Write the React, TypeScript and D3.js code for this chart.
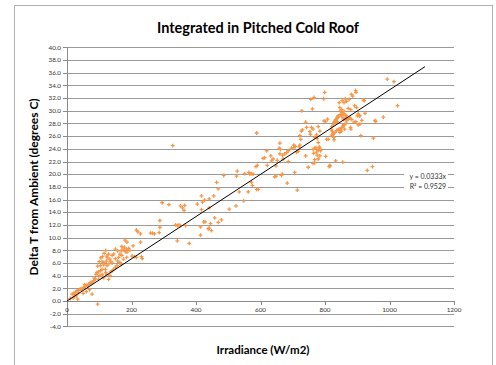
import * as d3 from 'd3'

// Irradiance (W/m2), Delta T (degrees C)
const lowPoints: [number, number][] = [
  [10, 0.4], [16, 1.1], [19, 0.5], [21, 1.2], [23, 0.7], [25, 1.0], [26, 1.4], [29, 0.8], [31, 1.6], [33, 0.3],
  [35, 1.3], [36, 1.7], [41, 1.9], [45, 1.8], [47, 2.0], [50, 1.2], [52, 2.1], [55, 2.6], [57, 2.3], [60, 1.5],
  [62, 2.5], [65, 2.4], [67, 2.6], [70, 1.8], [72, 2.9], [75, 2.8], [78, 3.0], [78, 1.1], [83, 3.2], [85, 3.6],
  [88, 3.5], [90, 4.2], [93, 4.5], [95, -0.5], [95, 5.5], [98, 4.6], [98, 3.4], [100, 6.2], [100, 4.0], [104, 4.8],
  [104, 5.6], [105, 6.8], [109, 5.0], [109, 6.2], [109, 4.2], [110, 7.0], [110, 3.8], [114, 6.1], [114, 5.7],
  [114, 3.7], [115, 7.5], [119, 5.0], [120, 8.0], [120, 4.5], [122, 6.3], [124, 7.1], [124, 5.6], [124, 4.2],
  [125, 6.8], [129, 7.4], [129, 3.4], [130, 5.9], [133, 6.6], [133, 4.0], [135, 4.6], [135, 6.3], [140, 4.8],
  [140, 7.2], [140, 6.0], [145, 5.0], [145, 7.4], [150, 5.3], [150, 8.2], [150, 6.7], [155, 5.6], [157, 6.3],
  [157, 7.9], [160, 6.9], [164, 6.1], [164, 7.4], [168, 5.8], [168, 7.9], [170, 7.2], [170, 8.6], [174, 8.2],
  [175, 6.6], [178, 8.5], [180, 9.6], [181, 7.8], [184, 8.2], [185, 6.9], [186, 7.7], [186, 9.3], [191, 8.3],
  [195, 8.0], [202, 7.1], [205, 8.7], [209, 7.0], [215, 6.9], [228, 9.3], [231, 7.0], [233, 6.7],
]

const midPoints: [number, number][] = [
  [215, 11.2], [220, 10.9], [228, 10.6], [259, 10.7], [265, 10.7], [271, 10.6], [286, 10.8], [288, 11.6],
  [288, 12.7], [295, 15.5], [316, 15.2], [328, 24.5], [337, 12.0], [342, 11.9], [342, 9.5], [347, 12.0],
  [352, 11.9], [352, 15.0], [358, 14.7], [363, 14.3], [365, 15.1], [368, 11.9], [379, 9.1], [404, 15.3],
  [414, 11.7], [414, 10.4], [417, 16.6], [417, 14.4], [420, 15.6], [424, 12.5], [427, 15.9], [428, 12.5],
  [438, 11.4], [441, 14.7], [441, 11.5], [441, 16.1], [445, 12.2], [448, 11.1], [455, 16.6], [458, 13.1],
  [464, 18.7], [469, 12.4], [469, 17.7], [479, 12.8], [486, 19.8], [503, 14.5], [524, 15.0], [526, 19.7],
  [528, 20.5], [534, 17.2], [548, 15.8], [551, 20.1], [562, 17.2], [564, 20.3], [567, 20.0], [572, 20.1],
  [572, 18.7], [575, 18.2], [577, 20.0], [586, 21.2], [588, 26.5], [588, 17.6], [590, 21.4], [593, 17.6],
]

const highPoints: [number, number][] = [
  [608, 22.5], [613, 22.6], [619, 23.7], [621, 21.4], [632, 22.9], [634, 22.1], [639, 22.4], [644, 19.6],
  [648, 19.7], [652, 22.2], [648, 21.3], [660, 24.9], [658, 24.1], [662, 23.9], [660, 23.2], [665, 19.8],
  [668, 20.0], [668, 23.0], [670, 22.4], [675, 23.2], [681, 23.4], [686, 23.7], [686, 22.0], [683, 18.6],
  [696, 24.1], [703, 24.6], [704, 24.2], [708, 24.4], [706, 20.3], [712, 23.5], [717, 23.6], [720, 24.3],
  [722, 24.6], [725, 25.5], [722, 26.1], [727, 26.8], [730, 27.0], [728, 30.0], [714, 17.5], [740, 28.2],
  [743, 27.4], [740, 22.9], [748, 21.1], [753, 26.7], [755, 26.3], [758, 27.4], [763, 27.1], [761, 30.3],
  [756, 31.8], [766, 32.1], [763, 23.9], [768, 24.1], [772, 24.2], [774, 23.5], [765, 23.3], [768, 25.8],
  [774, 26.2], [776, 25.6], [779, 25.0], [782, 24.3], [784, 24.1], [779, 23.8], [786, 23.7], [768, 22.3],
  [779, 22.4], [784, 22.9], [776, 23.0], [763, 21.7], [768, 21.8], [779, 27.5], [784, 26.8], [796, 31.9],
  [799, 32.9], [797, 28.4], [802, 28.3], [808, 28.7], [805, 25.5], [810, 25.5], [802, 22.8], [813, 21.2],
  [815, 21.4], [820, 27.0], [823, 26.7], [825, 26.3], [827, 25.8], [830, 28.3], [833, 28.6], [836, 28.7],
  [838, 29.0], [841, 29.2], [833, 22.1], [844, 31.3], [853, 31.6], [863, 31.9], [882, 32.6], [895, 33.2],
  [846, 30.5], [848, 30.0], [854, 29.7], [858, 29.5], [851, 29.2], [856, 28.9], [864, 29.3], [867, 28.8],
  [856, 27.6], [861, 27.1], [867, 28.4], [872, 28.7], [877, 28.9], [879, 27.4], [892, 30.8], [898, 30.5],
  [903, 29.5], [906, 29.2], [908, 27.9], [844, 27.1], [846, 26.6], [851, 26.8],
]

const farPoints: [number, number][] = [
  [993, 35.0], [1014, 34.6], [1025, 30.8], [981, 29.0], [955, 28.5], [957, 28.3], [950, 25.7], [931, 20.6],
  [947, 21.2], [911, 26.1], [896, 32.9], [886, 32.3], [875, 31.8], [867, 31.5], [859, 31.3],
  [872, 30.4], [880, 30.2], [919, 31.7], [922, 31.6], [924, 29.6], [900, 29.2], [908, 29.2], [914, 28.5],
  [896, 28.3], [890, 28.2], [883, 28.6], [878, 28.8], [862, 28.7], [857, 28.6], [852, 30.2], [855, 29.5],
  [859, 29.9], [865, 29.2], [847, 29.4], [841, 29.0], [838, 28.3], [834, 28.1], [831, 28.3], [828, 28.2],
  [826, 27.8], [821, 27.5], [880, 27.1], [903, 27.8], [865, 28.0], [859, 27.8], [855, 27.6], [852, 27.3],
  [847, 27.1], [841, 27.0], [836, 26.9], [831, 26.6], [826, 26.5], [821, 26.2], [824, 26.0], [828, 25.4],
  [815, 21.3], [855, 21.9],
]

const xTicks = [0, 200, 400, 600, 800, 1000, 1200]
const yTicks = d3.range(-4, 41, 2)
const slope = 0.0333
const rSquared = 0.9529
const trendEnd = 1110

const W = 496
const H = 365
const font = 'Lato, "Open Sans", sans-serif'

export default function App() {
  const x = d3.scaleLinear().domain([0, 1200]).range([67, 454])
  const y = d3.scaleLinear().domain([-4, 40]).range([326.4, 47.4])
  const points = [...lowPoints, ...midPoints, ...highPoints, ...farPoints]
  const marker = d3.symbol(d3.symbolCross, 8)()
  const trend = d3.line<number>().x((d) => x(d)).y((d) => y(d * slope))([0, trendEnd])
  const crisp = (v: number) => Math.round(v) + 0.5

  return (
    <svg
      width={W}
      height={H}
      style={{ position: 'absolute', left: 0, top: 0, background: '#fff' }}
    >
      <rect x={14.5} y={5.5} width={478} height={380} fill="#fff" stroke="#b0b0b0" />

      <text x={258} y={33} textAnchor="middle" fontFamily={font} fontWeight={700} fontSize={14.5} fill="#000">
        Integrated in Pitched Cold Roof
      </text>

      {/* gridlines */}
      {yTicks.map((t) => (
        <line key={t} x1={x(0)} x2={x(1200)} y1={crisp(y(t))} y2={crisp(y(t))} stroke="#9a9a9a" strokeWidth={1} />
      ))}

      {/* y axis */}
      <line x1={crisp(x(0))} x2={crisp(x(0))} y1={y(40)} y2={y(-4)} stroke="#8a8a8a" />
      {yTicks.map((t) => (
        <g key={t}>
          <line x1={x(0) - 4} x2={x(0)} y1={crisp(y(t))} y2={crisp(y(t))} stroke="#8a8a8a" />
          <text x={x(0) - 6} y={y(t) + 2.2} textAnchor="end" fontFamily={font} fontSize={6.3} fill="#333">
            {t.toFixed(1)}
          </text>
        </g>
      ))}

      {/* x axis at zero */}
      <line x1={x(0)} x2={x(1200)} y1={crisp(y(0))} y2={crisp(y(0))} stroke="#8a8a8a" />
      {xTicks.map((t) => (
        <g key={t}>
          <line x1={crisp(x(t))} x2={crisp(x(t))} y1={y(0)} y2={y(0) + 4} stroke="#8a8a8a" />
          <text x={x(t)} y={y(0) + 11} textAnchor="middle" fontFamily={font} fontSize={6.3} fill="#333">
            {t}
          </text>
        </g>
      ))}

      {/* scatter */}
      {points.map(([px, py], i) => (
        <path key={i} d={marker ?? ''} transform={`translate(${x(px)},${y(py)})`} fill="#f79646" />
      ))}

      {/* trendline */}
      <path d={trend ?? ''} fill="none" stroke="#000" strokeWidth={1} />

      {/* equation label */}
      <rect x={404} y={170} width={44} height={20} fill="#fff" />
      <text x={446} y={178.5} textAnchor="end" fontFamily={font} fontSize={7} fill="#333">
        y = {slope}x
      </text>
      <text x={446} y={189} textAnchor="end" fontFamily={font} fontSize={7} fill="#333">
        R² = {rSquared}
      </text>

      {/* axis titles */}
      <text
        transform={`translate(38,${(y(40) + y(-4)) / 2}) rotate(-90)`}
        textAnchor="middle"
        fontFamily={font}
        fontWeight={700}
        fontSize={12}
        fill="#000"
      >
        Delta T from Ambient (degrees C)
      </text>
      <text x={263} y={354} textAnchor="middle" fontFamily={font} fontWeight={700} fontSize={11.5} fill="#000">
        Irradiance (W/m2)
      </text>
    </svg>
  )
}
